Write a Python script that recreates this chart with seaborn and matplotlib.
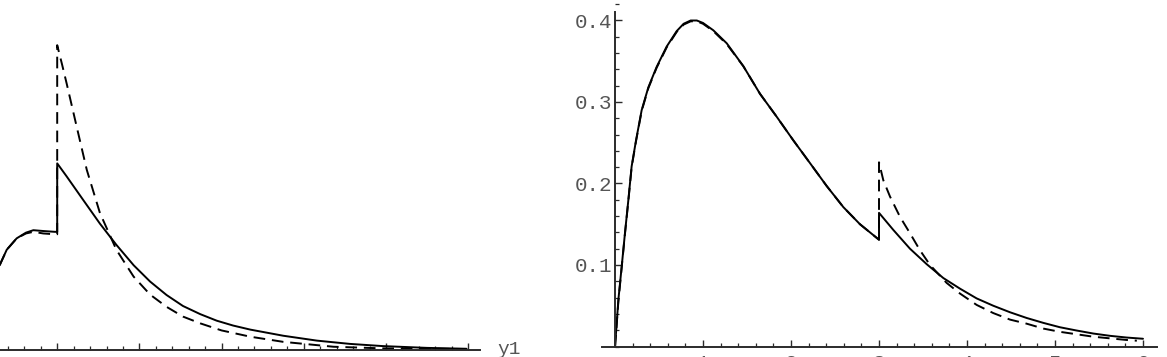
import numpy as np
import pandas as pd
import matplotlib
matplotlib.use("Agg")
import matplotlib.pyplot as plt
from matplotlib.ticker import MultipleLocator, FixedLocator
import seaborn as sns

# ---------------- data ----------------
# Left panel: density in y1, jump at y1 = 1 (duplicate x marks the jump)
left_solid_x = [0.30, 0.386, 0.507, 0.62, 0.71, 0.83, 0.97, 1.0,
                1.0, 1.115, 1.317, 1.52, 1.72, 1.93, 2.13, 2.33, 2.53, 2.74,
                2.94, 3.14, 3.35, 3.75, 4.16, 4.56, 4.96, 5.5, 5.98]
left_solid_y = [0.104, 0.123, 0.137, 0.144, 0.147, 0.146, 0.145, 0.145,
                0.229, 0.213, 0.184, 0.155, 0.129, 0.104, 0.084, 0.0675, 0.054, 0.044,
                0.036, 0.030, 0.025, 0.0175, 0.0115, 0.0075, 0.0048, 0.0026, 0.0015]

left_dashed_x = [0.30, 0.386, 0.507, 0.62, 0.71, 0.83, 0.97, 1.0,
                 1.0, 1.06, 1.115, 1.237, 1.36, 1.52, 1.72, 1.93, 2.13, 2.33,
                 2.53, 2.74, 3.0, 3.35, 3.75, 4.36, 4.96, 5.98]
left_dashed_y = [0.104, 0.123, 0.137, 0.143, 0.145, 0.143, 0.142, 0.142,
                 0.374, 0.350, 0.327, 0.274, 0.221, 0.168, 0.123, 0.090, 0.068, 0.053,
                 0.041, 0.0327, 0.024, 0.0163, 0.010, 0.004, 0.002, 0.0012]

# Right panel: density, jump at 3
right_solid_x = [0.0, 0.011, 0.038, 0.076, 0.114, 0.152, 0.189, 0.239, 0.303, 0.379,
                 0.473, 0.587, 0.701, 0.78, 0.86, 0.93, 1.0, 1.117, 1.27, 1.458, 1.648,
                 1.837, 2.026, 2.216, 2.405, 2.595, 2.784, 3.0,
                 3.0, 3.163, 3.352, 3.542, 3.731, 3.92, 4.11, 4.299, 4.489, 4.678,
                 4.867, 5.057, 5.246, 5.436, 5.625, 5.814, 6.0]
right_solid_y = [0.0, 0.016, 0.057, 0.098, 0.140, 0.180, 0.221, 0.253, 0.290, 0.318,
                 0.343, 0.368, 0.387, 0.396, 0.400, 0.400, 0.397, 0.388, 0.372, 0.344,
                 0.310, 0.282, 0.253, 0.225, 0.197, 0.171, 0.150, 0.131,
                 0.164, 0.143, 0.120, 0.101, 0.084, 0.071, 0.059, 0.050, 0.042, 0.035,
                 0.029, 0.0236, 0.0196, 0.0159, 0.0131, 0.011, 0.0095]

right_dashed_x = [0.0, 0.011, 0.038, 0.076, 0.114, 0.152, 0.189, 0.239, 0.303, 0.379,
                  0.473, 0.587, 0.701, 0.78, 0.86, 0.93, 1.0, 1.117, 1.27, 1.458, 1.648,
                  1.837, 2.026, 2.216, 2.405, 2.595, 2.784, 3.0,
                  3.0, 3.049, 3.125, 3.239, 3.352, 3.466, 3.58, 3.769, 3.92, 4.11,
                  4.299, 4.489, 4.678, 4.867, 5.057, 5.246, 5.436, 5.625, 5.814, 5.93]
right_dashed_y = [0.0, 0.014, 0.055, 0.097, 0.139, 0.179, 0.220, 0.252, 0.289, 0.317,
                  0.342, 0.367, 0.386, 0.395, 0.399, 0.399, 0.396, 0.387, 0.371, 0.344,
                  0.310, 0.282, 0.253, 0.225, 0.197, 0.171, 0.150, 0.131,
                  0.226, 0.204, 0.184, 0.159, 0.139, 0.118, 0.100, 0.078, 0.065, 0.051,
                  0.041, 0.033, 0.028, 0.022, 0.018, 0.015, 0.012, 0.010, 0.008, 0.0071]

x_ticks = [1, 2, 3, 4, 5, 6]
x_tick_labels = ["1", "2", "3", "4", "5", "6"]
y_ticks = [0.1, 0.2, 0.3, 0.4]
y_tick_labels = ["0.1", "0.2", "0.3", "0.4"]
axis_label = "y1"

# ---------------- figure ----------------
sns.set_theme(style="white")
plt.rcParams["font.family"] = ["Liberation Mono", "DejaVu Sans Mono"]

W, H = 1167, 357
fig = plt.figure(figsize=(W / 100, H / 100), dpi=100)


def rect(x0_px, px_per_x, xlim, y0_px, px_per_y, ylim):
    left = x0_px + xlim[0] * px_per_x
    right = x0_px + xlim[1] * px_per_x
    top = y0_px - ylim[1] * px_per_y
    bot = y0_px - ylim[0] * px_per_y
    return [left / W, (H - bot) / H, (right - left) / W, (bot - top) / H]


AX_COLOR = "#2b2b2b"
TXT_COLOR = "#555555"


def style_axes(ax, show_ylabels, ytop, xpad):
    for s in ("top", "right"):
        ax.spines[s].set_visible(False)
    for s in ("left", "bottom"):
        ax.spines[s].set_position(("data", 0))
        ax.spines[s].set_color(AX_COLOR)
        ax.spines[s].set_linewidth(1.4)
    ax.spines["left"].set_bounds(0, ytop)
    ax.xaxis.set_major_locator(FixedLocator(x_ticks))
    ax.set_xticklabels(x_tick_labels)
    ax.xaxis.set_minor_locator(MultipleLocator(0.2))
    ax.yaxis.set_major_locator(FixedLocator(y_ticks))
    ax.yaxis.set_minor_locator(MultipleLocator(0.02))
    if show_ylabels:
        ax.set_yticklabels(y_tick_labels)
    else:
        ax.set_yticklabels([])
    ax.tick_params(which="both", bottom=True, left=True, top=False, right=False)
    ax.tick_params(which="major", direction="in", length=5, width=1.0,
                   color=AX_COLOR, labelcolor=TXT_COLOR, labelsize=15)
    ax.tick_params(axis="x", which="major", pad=xpad)
    ax.tick_params(axis="y", which="major", pad=2)
    ax.tick_params(which="minor", direction="in", length=2.6, width=0.9,
                   color=AX_COLOR)
    ax.set_xlabel("")
    ax.set_ylabel("")
    ax.grid(False)
    ax.patch.set_alpha(0)


def draw(ax, xs, ys, dashed):
    df = pd.DataFrame({"x": xs, "y": ys})
    sns.lineplot(data=df, x="x", y="y", ax=ax, estimator=None, sort=False,
                 color="black", linewidth=1.4)
    line = ax.lines[-1]
    if dashed:
        line.set_linestyle((0, (6.0, 3.5)))


# left panel (its y axis lies outside the crop)
lx_lim = (-1.0, 6.143)
ly_lim = (-7 / 815, 350 / 815)
axL = fig.add_axes(rect(-25, 82.2, lx_lim, 350, 815, ly_lim))
draw(axL, left_solid_x, left_solid_y, False)
draw(axL, left_dashed_x, left_dashed_y, True)
axL.set_xlim(*lx_lim)
axL.set_ylim(*ly_lim)
style_axes(axL, False, 0.41, 3.5)
axL.text(6.36, 0.0005, axis_label, ha="left", va="center", fontsize=14,
         color=TXT_COLOR)

# right panel
rx_lim = (-0.15, 6.16)
ry_lim = (-10.5 / 815, 346.5 / 815)
axR = fig.add_axes(rect(615, 88, rx_lim, 346.5, 815, ry_lim))
draw(axR, right_solid_x, right_solid_y, False)
draw(axR, right_dashed_x, right_dashed_y, True)
axR.set_xlim(*rx_lim)
axR.set_ylim(*ry_lim)
style_axes(axR, True, 0.411, 5.5)
axR.text(6.36, 0.0005, axis_label, ha="left", va="center", fontsize=14,
         color=TXT_COLOR)

fig.savefig("out.png", dpi=100)
